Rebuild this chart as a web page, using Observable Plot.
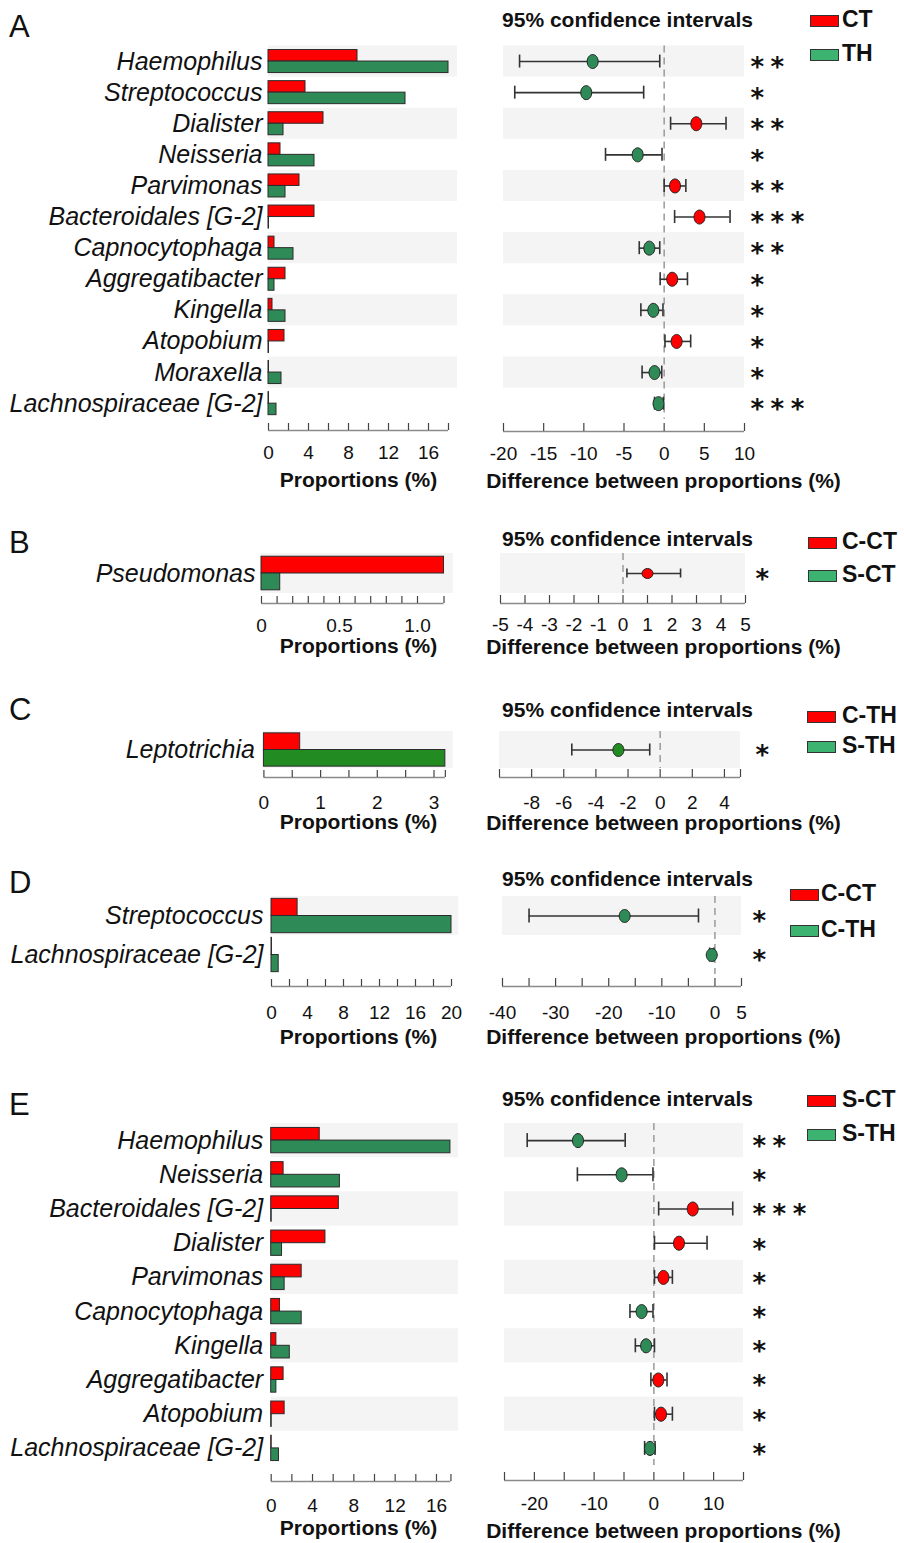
<!DOCTYPE html>
<html><head><meta charset="utf-8">
<script src="https://cdn.jsdelivr.net/npm/d3@7"></script>
<script src="https://cdn.jsdelivr.net/npm/@observablehq/plot@0.6"></script>
<style>
html,body{margin:0;padding:0;background:#fff;}
#root{position:relative;width:904px;height:1543px;overflow:hidden;font-family:"Liberation Sans",Arial,Helvetica,sans-serif;color:#111;}
</style></head>
<body><div id="root"></div>
<script>
// ---------------- DATA ----------------
// Panel A: CT vs TH
const aTaxa = ["Haemophilus","Streptococcus","Dialister","Neisseria","Parvimonas","Bacteroidales [G-2]","Capnocytophaga","Aggregatibacter","Kingella","Atopobium","Moraxella","Lachnospiraceae [G-2]"];
const aCT = [8.9, 3.7, 5.5, 1.2, 3.1, 4.6, 0.6, 1.7, 0.4, 1.6, 0.05, 0.05];
const aTH = [18.0, 13.7, 1.5, 4.6, 1.7, 0.05, 2.5, 0.6, 1.7, 0.05, 1.3, 0.8];
const aDiff = [-8.9, -9.7, 4.0, -3.3, 1.35, 4.4, -1.85, 1.0, -1.35, 1.55, -1.2, -0.7];
const aLo = [-18.0, -18.6, 0.8, -7.3, 0.0, 1.3, -3.1, -0.5, -2.9, 0.1, -2.75, -1.2];
const aHi = [-0.55, -2.55, 7.7, -0.27, 2.7, 8.2, -0.55, 2.9, -0.15, 3.3, -0.3, -0.1];
const aStars = ["**","*","**","*","**","***","**","*","*","*","*","***"];
const aLegend = ["CT","TH"];

// Panel B: C-CT vs S-CT
const bTaxa = ["Pseudomonas"];
const bCCT = [1.17];
const bSCT = [0.12];
const bDiff = [1.0];
const bLo = [0.16];
const bHi = [2.35];
const bStars = ["*"];
const bLegend = ["C-CT","S-CT"];

// Panel C: C-TH vs S-TH
const cTaxa = ["Leptotrichia"];
const cCTH = [0.64];
const cSTH = [3.2];
const cDiff = [-2.6];
const cLo = [-5.5];
const cHi = [-0.65];
const cStars = ["*"];
const cLegend = ["C-TH","S-TH"];

// Panel D: C-CT vs C-TH
const dTaxa = ["Streptococcus","Lachnospiraceae [G-2]"];
const dCCT = [2.9, 0.05];
const dCTH = [20.0, 0.8];
const dDiff = [-17.0, -0.6];
const dLo = [-35.0, -1.0];
const dHi = [-3.1, -0.2];
const dStars = ["*","*"];
const dLegend = ["C-CT","C-TH"];

// Panel E: S-CT vs S-TH
const eTaxa = ["Haemophilus","Neisseria","Bacteroidales [G-2]","Dialister","Parvimonas","Capnocytophaga","Kingella","Aggregatibacter","Atopobium","Lachnospiraceae [G-2]"];
const eSCT = [4.7, 1.2, 6.55, 5.25, 2.95, 0.85, 0.5, 1.2, 1.3, 0.05];
const eSTH = [17.35, 6.65, 0.05, 1.05, 1.3, 2.95, 1.8, 0.5, 0.05, 0.75];
const eDiff = [-12.7, -5.4, 6.5, 4.2, 1.6, -2.05, -1.3, 0.75, 1.2, -0.65];
const eLo = [-21.2, -12.8, 0.8, 0.1, 0.1, -4.0, -3.1, -0.5, 0.1, -1.55];
const eHi = [-4.8, -0.15, 13.2, 8.9, 3.1, -0.15, 0.1, 2.2, 3.1, 0.2];
const eStars = ["**","*","***","*","*","*","*","*","*","*"];
const eLegend = ["S-CT","S-TH"];

// tick values
const aBarTicks = d3.range(0, 18.01, 2), aBarLabels = [0,4,8,12,16];
const aCiTicks = d3.range(-20, 10.01, 5), aCiLabels = [-20,-15,-10,-5,0,5,10];
const bBarTicks = [...d3.range(0, 11).map(k => k/10), 1.17], bBarLabels = [0, 0.5, 1.0];
const bCiTicks = d3.range(-5, 5.01, 1), bCiLabels = [-5,-4,-3,-2,-1,0,1,2,3,4,5];
const cBarTicks = [...d3.range(0, 7).map(k => k/2), 3.2], cBarLabels = [0,1,2,3];
const cCiTicks = [...d3.range(-10, 4.01, 2), 5], cCiLabels = [-8,-6,-4,-2,0,2,4];
const dBarTicks = d3.range(0, 20.01, 2), dBarLabels = [0,4,8,12,16,20];
const dCiTicks = d3.range(-40, 5.01, 5), dCiLabels = [-40,-30,-20,-10,0,5];
const eBarTicks = [...d3.range(0, 16.01, 2), 17.4], eBarLabels = [0,4,8,12,16];
const eCiTicks = d3.range(-25, 15.01, 5), eCiLabels = [-20,-10,0,10];

// ---------------- STYLE ----------------
const FONT = '"Liberation Sans", Arial, Helvetica, sans-serif';
const STARFONT = '"DejaVu Sans", sans-serif';
const RED = "#ff0000", SEA = "#2e8b57", FOREST = "#228b22", LEGGREEN = "#3cb371";
const STRIPE = "#f4f4f4", EDGE = "#2b2b2b";
const root = document.getElementById("root");

function place(el, left, top) {
  el.style.position = "absolute";
  el.style.left = left + "px";
  el.style.top = top + "px";
  root.appendChild(el);
}

function ellipse(rx, ry) {
  const k = 0.5523;
  return {draw(ctx) {
    ctx.moveTo(rx, 0);
    ctx.bezierCurveTo(rx, ry*k, rx*k, ry, 0, ry);
    ctx.bezierCurveTo(-rx*k, ry, -rx, ry*k, -rx, 0);
    ctx.bezierCurveTo(-rx, -ry*k, -rx*k, -ry, 0, -ry);
    ctx.bezierCurveTo(rx*k, -ry, rx, -ry*k, rx, 0);
    ctx.closePath();
  }};
}

function barPanel(c) {
  const N = c.taxa.length;
  const rows = c.taxa.map((t, i) => ({t, i, r: c.red[i], g: c.green[i]}));
  const svgTop = Math.floor(c.rowsTop - 10);
  const width = 462;
  const xEnd = c.x0 + c.stripeEnd * c.ppu;
  const height = Math.ceil(c.titleY + 16 - svgTop);
  const marginTop = c.rowsTop - svgTop;
  const marginBottom = height - marginTop - N * c.band;
  const toRow = y => (y - c.rowsTop) / c.band - 0.5;
  const toX = px => (px - c.x0) / c.ppu;
  const axisRow = toRow(c.axisY);
  const fmt = c.fmt || (d => String(d));
  const plot = Plot.plot({
    width, height, marginLeft: c.x0, marginRight: width - xEnd, marginTop, marginBottom,
    style: {fontFamily: FONT, background: "transparent", overflow: "visible"},
    x: {domain: [0, c.stripeEnd], axis: null},
    y: {domain: [-0.5, N - 0.5], reverse: true, axis: null},
    marks: [
      Plot.rect(rows.filter(d => d.i % 2 === 0), {x1: 0, x2: c.stripeEnd, y1: d => d.i - 0.5, y2: d => d.i + 0.5, fill: STRIPE}),
      Plot.rect(rows, {x1: 0, x2: "r", y1: d => d.i - c.half, y2: "i", fill: RED, stroke: EDGE, strokeWidth: 1}),
      Plot.rect(rows, {x1: 0, x2: "g", y1: "i", y2: d => d.i + c.half, fill: c.greenColor, stroke: EDGE, strokeWidth: 1}),
      Plot.text(rows, {x: 0, y: "i", text: "t", textAnchor: "end", dx: -c.labelGap, fontSize: 25, fontStyle: "italic", fill: "#111"}),
      Plot.ruleY([axisRow], {x1: 0, x2: c.axisEnd, stroke: "#8a8a8a", strokeWidth: 1.5}),
      Plot.ruleX(c.ticks, {x: d => d, y1: toRow(c.axisY - 7), y2: axisRow, stroke: "#444", strokeWidth: 1.2}),
      Plot.text(c.labels, {x: d => d, y: toRow(c.labelY), text: fmt, fontSize: 19, fill: "#111"}),
      Plot.text(["Proportions (%)"], {x: toX(358), y: toRow(c.titleY), text: d => d, fontSize: 21, fontWeight: "bold", fill: "#111"})
    ]
  });
  place(plot, 0, svgTop);
}

function ciPanel(c) {
  const N = c.taxa.length;
  const rows = c.taxa.map((t, i) => ({t, i, d: c.diff[i], lo: c.lo[i], hi: c.hi[i], s: c.stars[i]}));
  const svgTop = Math.floor(c.headY - 16);
  const left = 460, width = 444;
  const height = Math.ceil(c.titleY + 16 - svgTop);
  const marginTop = c.rowsTop - svgTop;
  const marginBottom = height - marginTop - N * c.band;
  const toRow = y => (y - c.rowsTop) / c.band - 0.5;
  const ppu = (c.x1 - c.x0) / (c.domain[1] - c.domain[0]);
  const toX = px => c.domain[0] + (px - c.x0) / ppu;
  const capH = c.capHalf / c.band;
  const axisRow = toRow(c.axisY);
  const plot = Plot.plot({
    width, height, marginLeft: c.x0 - left, marginRight: left + width - c.x1, marginTop, marginBottom,
    style: {fontFamily: FONT, background: "transparent", overflow: "visible"},
    x: {domain: c.domain, axis: null},
    y: {domain: [-0.5, N - 0.5], reverse: true, axis: null},
    color: {type: "identity"},
    marks: [
      Plot.rect(rows.filter(d => d.i % 2 === 0), {x1: c.domain[0], x2: c.domain[1], y1: d => d.i - 0.5, y2: d => d.i + 0.5, fill: STRIPE}),
      Plot.ruleX([0], {y1: -0.5, y2: N - 0.5, stroke: "#9a9a9a", strokeWidth: 1.5, strokeDasharray: "7,5"}),
      Plot.ruleY(rows, {x1: "lo", x2: "hi", y: "i", stroke: "#333", strokeWidth: 1.6}),
      Plot.ruleX(rows, {x: "lo", y1: d => d.i - capH, y2: d => d.i + capH, stroke: "#333", strokeWidth: 1.6}),
      Plot.ruleX(rows, {x: "hi", y1: d => d.i - capH, y2: d => d.i + capH, stroke: "#333", strokeWidth: 1.6}),
      Plot.dot(rows, {x: "d", y: "i", symbol: ellipse(c.rx, c.ry), fill: d => d.d > 0 ? RED : c.greenColor, stroke: "#222", strokeWidth: 1}),
      Plot.text(rows, {x: c.domain[1], y: "i", text: "s", dx: c.starX - c.x1, dy: 6, textAnchor: "start", fontSize: 26, fontWeight: "bold", fontFamily: STARFONT, fill: "#111"}),
      Plot.ruleY([axisRow], {x1: c.domain[0], x2: c.domain[1], stroke: "#8a8a8a", strokeWidth: 1.5}),
      Plot.ruleX(c.ticks, {x: d => d, y1: toRow(c.axisY - 8), y2: axisRow, stroke: "#444", strokeWidth: 1.2}),
      Plot.text(c.labels, {x: d => d, y: toRow(c.labelY), text: d => String(d), fontSize: 19, fill: "#111"}),
      Plot.text(["95% confidence intervals"], {x: toX(627), y: toRow(c.headY), text: d => d, fontSize: 21, fontWeight: "bold", fill: "#111"}),
      Plot.text(["Difference between proportions (%)"], {x: toX(663), y: toRow(c.titleY), text: d => d, fontSize: 21, fontWeight: "bold", fill: "#111"})
    ]
  });
  plot.querySelectorAll("text").forEach(t => {
    if (/^\*+$/.test(t.textContent)) t.setAttribute("letter-spacing", "6.5");
  });
  place(plot, left, svgTop);
}

function legend(names, colors, boxLeft, textLeft, centers) {
  names.forEach((n, k) => {
    const box = document.createElement("div");
    box.style.cssText = `width:27px;height:10px;background:${colors[k]};border:1.5px solid #333;`;
    place(box, boxLeft, centers[k] - 6);
    const tx = document.createElement("div");
    tx.textContent = n;
    tx.style.cssText = `font:bold 23px ${FONT};line-height:23px;white-space:nowrap;color:#111;`;
    place(tx, textLeft, centers[k] - 13);
  });
}

function letter(ch, top) {
  const el = document.createElement("div");
  el.textContent = ch;
  el.style.cssText = `font:31px ${FONT};line-height:31px;color:#111;`;
  place(el, 9, top);
}

// ---------------- PANELS ----------------
letter("A", 10.5);
barPanel({taxa: aTaxa, red: aCT, green: aTH, greenColor: SEA, x0: 268, ppu: 10, stripeEnd: 18.9, axisEnd: 18,
  ticks: aBarTicks, labels: aBarLabels, rowsTop: 45.5, band: 31.1, half: 0.37, axisY: 430, labelY: 452, titleY: 480, labelGap: 6});
ciPanel({taxa: aTaxa, diff: aDiff, lo: aLo, hi: aHi, stars: aStars, greenColor: SEA, x0: 503, x1: 744, domain: [-20, 10],
  ticks: aCiTicks, labels: aCiLabels, rowsTop: 45.5, band: 31.1, axisY: 431, labelY: 453, titleY: 481, headY: 20,
  capHalf: 6.5, rx: 5.5, ry: 7, starX: 750});
legend(aLegend, [RED, LEGGREEN], 810, 842, [21, 55]);

letter("B", 526.5);
barPanel({taxa: bTaxa, red: bCCT, green: bSCT, greenColor: SEA, x0: 261, ppu: 156, stripeEnd: 1.23, axisEnd: 1.17,
  ticks: bBarTicks, labels: bBarLabels, fmt: d => d === 0 ? "0" : d.toFixed(1), rowsTop: 553, band: 40, half: 0.42,
  axisY: 603, labelY: 625, titleY: 646, labelGap: 6});
ciPanel({taxa: bTaxa, diff: bDiff, lo: bLo, hi: bHi, stars: bStars, greenColor: SEA, x0: 500, x1: 745, domain: [-5, 5],
  ticks: bCiTicks, labels: bCiLabels, rowsTop: 553, band: 40, axisY: 603, labelY: 624, titleY: 647, headY: 539,
  capHalf: 4.5, rx: 5.5, ry: 5, starX: 755});
legend(bLegend, [RED, LEGGREEN], 808, 842, [543, 576]);

letter("C", 693.5);
barPanel({taxa: cTaxa, red: cCTH, green: cSTH, greenColor: FOREST, x0: 263.4, ppu: 56.7, stripeEnd: 3.34, axisEnd: 3.2,
  ticks: cBarTicks, labels: cBarLabels, rowsTop: 731, band: 37, half: 0.45, axisY: 777, labelY: 802, titleY: 822, labelGap: 9});
ciPanel({taxa: cTaxa, diff: cDiff, lo: cLo, hi: cHi, stars: cStars, greenColor: FOREST, x0: 499, x1: 740, domain: [-10, 5],
  ticks: cCiTicks, labels: cCiLabels, rowsTop: 731, band: 37, axisY: 777, labelY: 802, titleY: 823, headY: 710,
  capHalf: 6, rx: 5.5, ry: 6.5, starX: 755});
legend(cLegend, [RED, LEGGREEN], 807, 842, [717, 747]);

letter("D", 867);
barPanel({taxa: dTaxa, red: dCCT, green: dCTH, greenColor: SEA, x0: 271, ppu: 9, stripeEnd: 20.8, axisEnd: 20,
  ticks: dBarTicks, labels: dBarLabels, rowsTop: 896, band: 39, half: 0.44, axisY: 986, labelY: 1012, titleY: 1037, labelGap: 8});
ciPanel({taxa: dTaxa, diff: dDiff, lo: dLo, hi: dHi, stars: dStars, greenColor: SEA, x0: 502, x1: 741, domain: [-40, 5],
  ticks: dCiTicks, labels: dCiLabels, rowsTop: 896, band: 39, axisY: 986, labelY: 1012, titleY: 1037, headY: 878.5,
  capHalf: 7, rx: 5.5, ry: 6.5, starX: 752});
legend(dLegend, [RED, LEGGREEN], 790, 821, [895, 931]);

letter("E", 1088.5);
barPanel({taxa: eTaxa, red: eSCT, green: eSTH, greenColor: SEA, x0: 270.7, ppu: 10.33, stripeEnd: 18.13, axisEnd: 17.4,
  ticks: eBarTicks, labels: eBarLabels, rowsTop: 1123, band: 34.2, half: 0.37, axisY: 1481, labelY: 1505, titleY: 1528, labelGap: 8});
ciPanel({taxa: eTaxa, diff: eDiff, lo: eLo, hi: eHi, stars: eStars, greenColor: SEA, x0: 504, x1: 743, domain: [-25, 15],
  ticks: eCiTicks, labels: eCiLabels, rowsTop: 1123, band: 34.2, axisY: 1480, labelY: 1503, titleY: 1531, headY: 1099,
  capHalf: 7, rx: 5.5, ry: 7, starX: 752});
legend(eLegend, [RED, LEGGREEN], 807, 842, [1101, 1135]);
</script>
</body></html>
